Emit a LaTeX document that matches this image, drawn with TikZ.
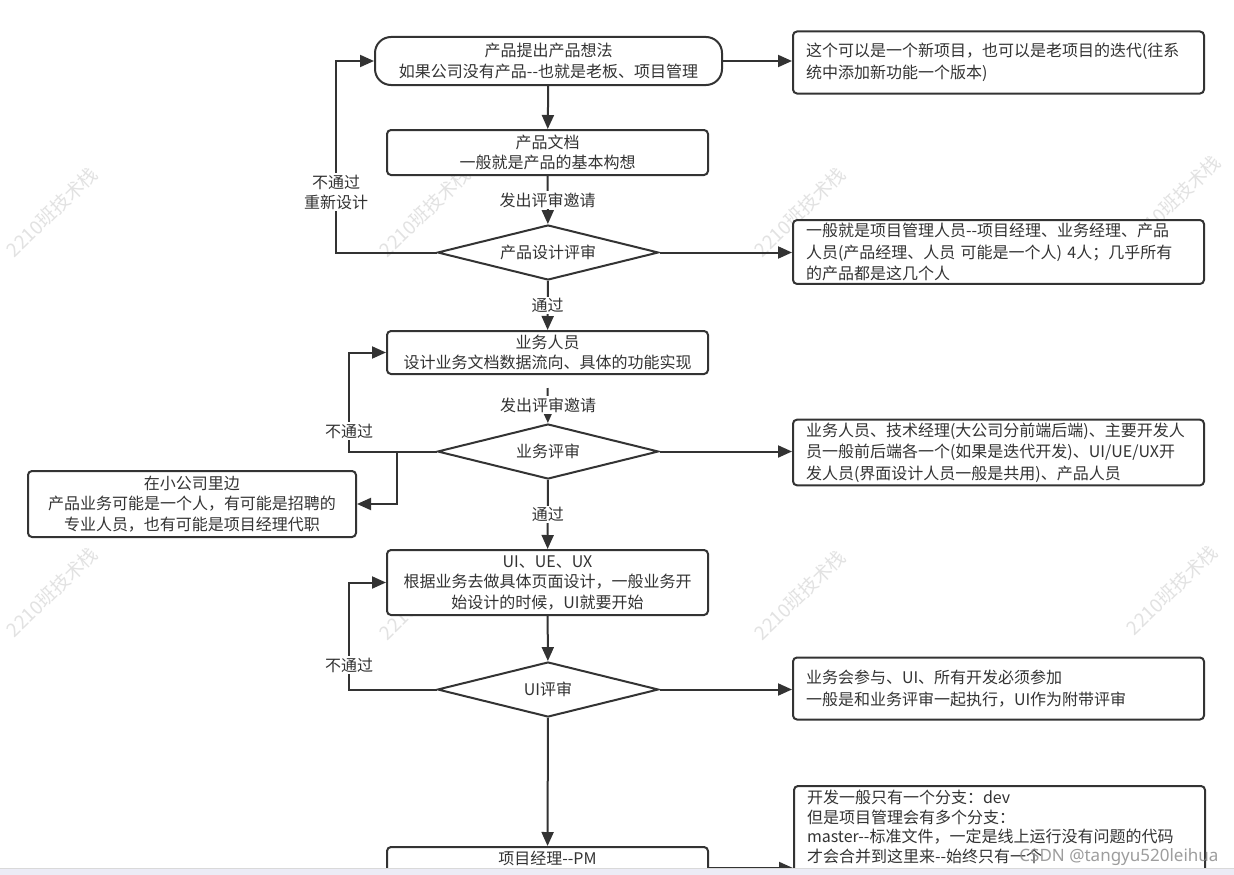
\documentclass[tikz,border=0pt]{standalone}
\usepackage{fontspec}
\setmainfont{Noto Sans CJK SC}
\newfontfamily\wmfont{Noto Sans}
\usetikzlibrary{arrows.meta,shapes.geometric}
\definecolor{ln}{HTML}{333333}
\definecolor{tx}{HTML}{333333}
\definecolor{wmcol}{HTML}{E2E2E2}
\definecolor{band}{HTML}{ECECF6}
\newcommand\hyhy{-\kern0pt-}
\tikzset{
  conn/.style={draw=ln, line width=2pt},
  arr/.style={conn, -{Triangle[length=14pt,width=12pt]}},
  procbox/.style={draw=ln, line width=2pt, rounded corners=4pt, fill=white, align=center,
    inner sep=2pt, text=tx, font=\fontsize{16}{20.5}\selectfont, minimum width=321pt},
  notebox/.style={draw=ln, line width=2pt, rounded corners=4pt, fill=white, align=left,
    inner xsep=13pt, inner ysep=3pt, text width=385pt, minimum height=62pt, text=tx,
    font=\fontsize{16}{21.5}\selectfont},
  decision/.style={diamond, aspect=4, draw=ln, line width=2pt, minimum width=221pt, minimum height=55pt,
    inner sep=0pt, fill=white, text=tx, font=\fontsize{16}{20}\selectfont},
  lbl/.style={fill=white, inner sep=1.5pt, text=tx, align=center, font=\fontsize{16}{20}\selectfont},
  wmark/.style={text=wmcol, rotate=44, font=\fontsize{19}{20}\selectfont}
}
\begin{document}
\begin{tikzpicture}[x=1pt,y=-1pt]
\useasboundingbox (0,0) rectangle (1234,875);
\clip (0,0) rectangle (1234,875);
\fill[white] (0,0) rectangle (1234,875);
% watermarks
\node[wmark] (wm1) at (52,212) {2210班技术栈};
\node[wmark] (wm2) at (425,212) {2210班技术栈};
\node[wmark] (wm3) at (800,212) {2210班技术栈};
\node[wmark] (wm4) at (1175,200) {2210班技术栈};
\node[wmark] (wm5) at (52,592) {2210班技术栈};
\node[wmark] (wm6) at (425,595) {2210班技术栈};
\node[wmark] (wm7) at (800,595) {2210班技术栈};
\node[wmark] (wm8) at (1172,590) {2210班技术栈};

% main column
\node[procbox, rounded corners=16pt, minimum width=347pt, minimum height=48pt] (idea) at (548.5,61)
  {产品提出产品想法\\如果公司没有产品\hyhy 也就是老板、项目管理};
\node[procbox, minimum height=45pt] (doc) at (547.5,152.5) {产品文档\\一般就是产品的基本构想};
\node[decision] (d1) at (548,252.5) {产品设计评审};
\node[procbox, minimum height=43pt] (biz) at (547.5,352.5) {业务人员\\设计业务文档数据流向、具体的功能实现};
\node[decision] (d2) at (548,451.5) {业务评审};
\node[procbox, minimum height=65pt] (ui) at (547.5,582.5) {UI、UE、UX\\根据业务去做具体页面设计，一般业务开\\始设计的时候，UI就要开始};
\node[decision] (d3) at (548,689.5) {UI评审};
\node[procbox, minimum height=42pt, anchor=north] (pm) at (547.5,846) {项目经理\hyhy PM\\\mbox{}};

% side notes
\node[notebox] (r1) at (998.5,62.5) {这个可以是一个新项目，也可以是老项目的迭代(往系\\统中添加新功能一个版本)};
\node[notebox] (r2) at (998.5,252) {一般就是项目管理人员\hyhy 项目经理、业务经理、产品\\人员(产品经理、人员 可能是一个人) 4人；几乎所有\\的产品都是这几个人};
\node[notebox] (r3) at (998.5,452.5) {业务人员、技术经理(大公司分前端后端)、主要开发人\\员一般前后端各一个(如果是迭代开发)、UI/UE/UX开\\发人员(界面设计人员一般是共用)、产品人员};
\node[notebox] (r4) at (998.5,688.5) {业务会参与、UI、所有开发必须参加\\一般是和业务评审一起执行，UI作为附带评审};
\node[notebox, anchor=north west, inner ysep=4pt, font=\fontsize{16}{19.5}\selectfont] (r5) at (793,785)
  {开发一般只有一个分支：dev\\但是项目管理会有多个分支：\\master\hyhy 标准文件，一定是线上运行没有问题的代码\\才会合并到这里来\hyhy 始终只有一个\\\mbox{}\\\mbox{}};
\node[procbox, minimum width=328pt, minimum height=66pt] (small) at (192,504)
  {在小公司里边\\产品业务可能是一个人，有可能是招聘的\\专业人员，也有可能是项目经理代职};

% coordinates for loops
\coordinate (c1) at (336,252.5);
\coordinate (c2) at (349,451.5);
\coordinate (c3) at (397,451.5);
\coordinate (c4) at (349,689.5);

% connectors
\draw[arr] (idea.east) -- (idea.east -| r1.west);
\draw[arr] (idea) -- (doc);
\draw[arr] (doc) -- node[lbl] (l1) {发出评审邀请} (d1);
\draw[arr] (d1.west) -- (c1) |- (idea.west);
\node[lbl] (l2) at (336,192) {不通过\\重新设计};
\draw[arr] (d1.east) -- (d1.east -| r2.west);
\draw[arr] (d1) -- node[lbl] (l3) {通过} (biz);
\draw[arr, shorten <=13pt] (biz) -- (d2);
\node[lbl] (l4) at (548,405) {发出评审邀请};
\draw[arr] (d2.west) -- (c2) |- (biz.west);
\node[lbl] (l5) at (349,431) {不通过};
\draw[arr] (c3) |- (small.east);
\draw[arr] (d2.east) -- (d2.east -| r3.west);
\draw[arr] (d2) -- node[lbl] (l6) {通过} (ui);
\draw[arr] (ui) -- (d3);
\draw[arr] (d3.west) -- (c4) |- (ui.west);
\node[lbl] (l7) at (349,665) {不通过};
\draw[arr] (d3.east) -- (d3.east -| r4.west);
\draw[arr] (d3) -- (pm);
\draw[arr] (pm.east) -- (pm.east -| r5.west);

% overlays
\node[text=black!45, opacity=0.85, font=\wmfont\fontsize{17}{18}\selectfont, anchor=east] (csdn) at (1222,857) {CSDN @tangyu520leihua};
\fill[band] (0,868) rectangle (1234,875);
\draw[draw=black!15, line width=0.6pt] (0,868) -- (1234,868);
\end{tikzpicture}
\end{document}
